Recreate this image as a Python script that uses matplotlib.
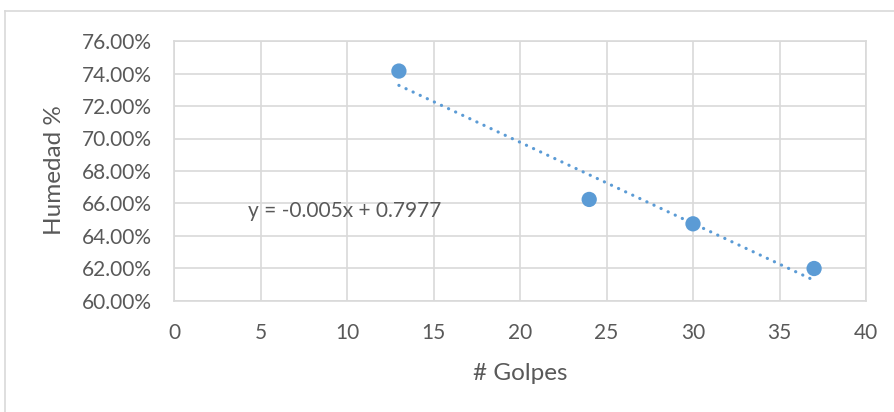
import matplotlib
matplotlib.use("Agg")
import matplotlib.pyplot as plt
import numpy as np
from matplotlib.ticker import PercentFormatter
from matplotlib.lines import Line2D

# Humedad vs número de golpes
golpes = [13, 24, 30, 37]
humedad = [0.7415, 0.6625, 0.6475, 0.6200]

# Tendencia lineal
pendiente = -0.005
intercepto = 0.7977
ecuacion = "y = -0.005x + 0.7977"

x_ticks = [0, 5, 10, 15, 20, 25, 30, 35, 40]
y_ticks = [0.60, 0.62, 0.64, 0.66, 0.68, 0.70, 0.72, 0.74, 0.76]

W, H = 894, 412
plt.rcParams["font.family"] = ["Lato", "DejaVu Sans"]
fig = plt.figure(figsize=(W / 100, H / 100), dpi=100)

grid_c = "#d9d9d9"
text_c = "#595959"
blue = "#5b9bd5"

# Marco exterior del gráfico
fig.add_artist(Line2D([5 / W, 5 / W], [0, 1 - 11 / H], color=grid_c, lw=1.2,
                      transform=fig.transFigure))
fig.add_artist(Line2D([5 / W, 1], [1 - 11 / H, 1 - 11 / H], color=grid_c, lw=1.2,
                      transform=fig.transFigure))

ax = fig.add_axes([174 / W, (H - 301) / H, 692 / W, 260 / H])
ax.set_xlim(x_ticks[0], x_ticks[-1])
ax.set_ylim(y_ticks[0], y_ticks[-1])
ax.set_xticks(x_ticks)
ax.set_yticks(y_ticks)
ax.yaxis.set_major_formatter(PercentFormatter(1.0, decimals=2))
ax.grid(True, color=grid_c, lw=1.2)
ax.set_axisbelow(True)
for s in ax.spines.values():
    s.set_color(grid_c)
    s.set_linewidth(1.2)
ax.tick_params(length=0, labelsize=15, colors=text_c)
ax.tick_params(axis="y", pad=16)
ax.tick_params(axis="x", pad=16)

# Línea de tendencia punteada
xt = np.array([golpes[0], golpes[-1]])
ax.plot(xt, pendiente * xt + intercepto, color=blue, lw=2.3,
        linestyle=(0, (0.05, 2.4)), dash_capstyle="round", zorder=2)

ax.scatter(golpes, humedad, s=11 ** 2, color=blue, zorder=3, edgecolors="none")

ax.text(4.3, 0.6554, ecuacion, fontsize=15, color=text_c, va="center", ha="left")

ax.set_xlabel("# Golpes", fontsize=17.5, color=text_c)
ax.set_ylabel("Humedad %", fontsize=17.5, color=text_c)
ax.xaxis.set_label_coords(0.5, (301 - 374) / 260)
ax.xaxis.label.set_va("center")
ax.yaxis.set_label_coords((55 - 174) / 692, (301 - 170) / 260)
ax.yaxis.label.set_va("center")

fig.savefig("out.png", dpi=100)
